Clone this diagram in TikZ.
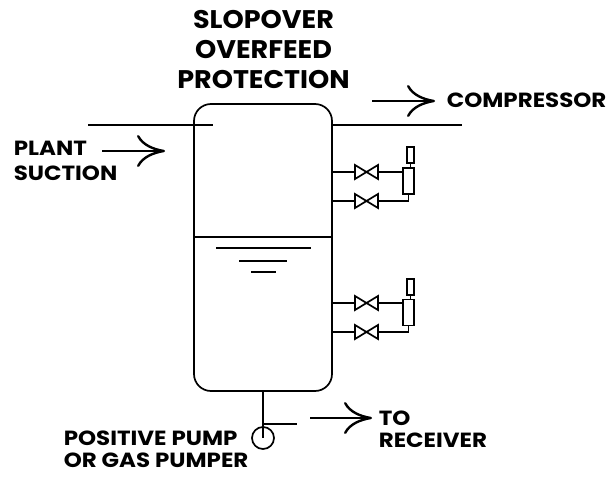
\documentclass[tikz,border=0pt]{standalone}
\usepackage{fontspec}
\setmainfont{Poppins}
\newfontfamily\lblfont{Poppins}[FakeStretch=1.12]
\newfontfamily\ttlfont{Poppins}[FakeStretch=1.06]
\usetikzlibrary{arrows.meta}
\begin{document}
\begin{tikzpicture}[x=1pt,y=-1pt,line width=1.7pt,
  lbl/.style={font=\lblfont\bfseries\fontsize{20.5}{#1}\selectfont,anchor=base west,inner sep=0pt,align=left},
  lbl/.default=22,
  ttl/.style={font=\ttlfont\bfseries\fontsize{25.5}{30}\selectfont,anchor=base,inner sep=0pt,align=center},
  flow/.style={line width=2.4pt,-{Computer Modern Rightarrow[length=28pt,width=32pt]}},
  gauge/.style={draw,fill=white,inner sep=0pt},
  valve/.style={fill=white,line join=miter}]
\useasboundingbox (0,0) rectangle (614,477);
% vessel
\node[draw,rounded corners=17pt,minimum width=138pt,minimum height=287pt,inner sep=0pt] (vessel) at (263,247.5) {};
% suction / compressor lines
\coordinate (sucL) at (88,125);
\coordinate (sucR) at (213,125);
\coordinate (cmpR) at (462,125);
\draw (sucL) -- (sucR);
\draw (vessel.east |- cmpR) -- (cmpR);
% divider and liquid level
\draw (vessel.west |- 0,237) -- (vessel.east |- 0,237);
\draw (216,248) -- (311,248);
\draw (239,261) -- (287,261);
\draw (251,272) -- (276,272);
% level gauges
\foreach \n/\yu/\yl/\bc/\sc in {a/172/201/181/155, b/303/332/312.5/287}{
  \node[gauge,minimum width=11pt,minimum height=26pt] (big\n) at (408.5,\bc) {};
  \node[gauge,minimum width=7pt,minimum height=16pt] (sm\n) at (410.5,\sc) {};
  \draw (sm\n.south) -- (sm\n.south |- big\n.north);
  \draw (vessel.east |- 0,\yu) -- (big\n.west |- 0,\yu);
  \draw (vessel.east |- 0,\yl) -| (big\n.south);
  \draw[valve] (355,\yu-7) -- (378,\yu+7) -- (378,\yu-7) -- (355,\yu+7) -- cycle;
  \draw[valve] (355,\yl-7) -- (378,\yl+7) -- (378,\yl-7) -- (355,\yl+7) -- cycle;
}
% pump
\node[draw,circle,minimum size=22pt,inner sep=0pt] (pump) at (263,438) {};
\draw (vessel.south) -- (pump.center);
\coordinate (brR) at (297,424);
\draw (vessel.south |- brR) -- (brR);
% flow arrows
\coordinate (a1s) at (102,151); \coordinate (a1e) at (165,151);
\coordinate (a2s) at (372,101); \coordinate (a2e) at (435,101);
\coordinate (a3s) at (310,418); \coordinate (a3e) at (372,418);
\draw[flow] (a1s) -- (a1e);
\draw[flow] (a2s) -- (a2e);
\draw[flow] (a3s) -- (a3e);
% texts
\node[ttl] (title) at (263.5,88) {SLOPOVER\\OVERFEED\\PROTECTION};
\node[lbl=25] (plant) at (13,180) {PLANT\\SUCTION};
\node[lbl] (comp) at (446,107) {COMPRESSOR};
\node[lbl] (recv) at (378,447) {TO\\RECEIVER};
\node[lbl] (pumpt) at (63,467) {POSITIVE PUMP\\OR GAS PUMPER};
\end{tikzpicture}
\end{document}
